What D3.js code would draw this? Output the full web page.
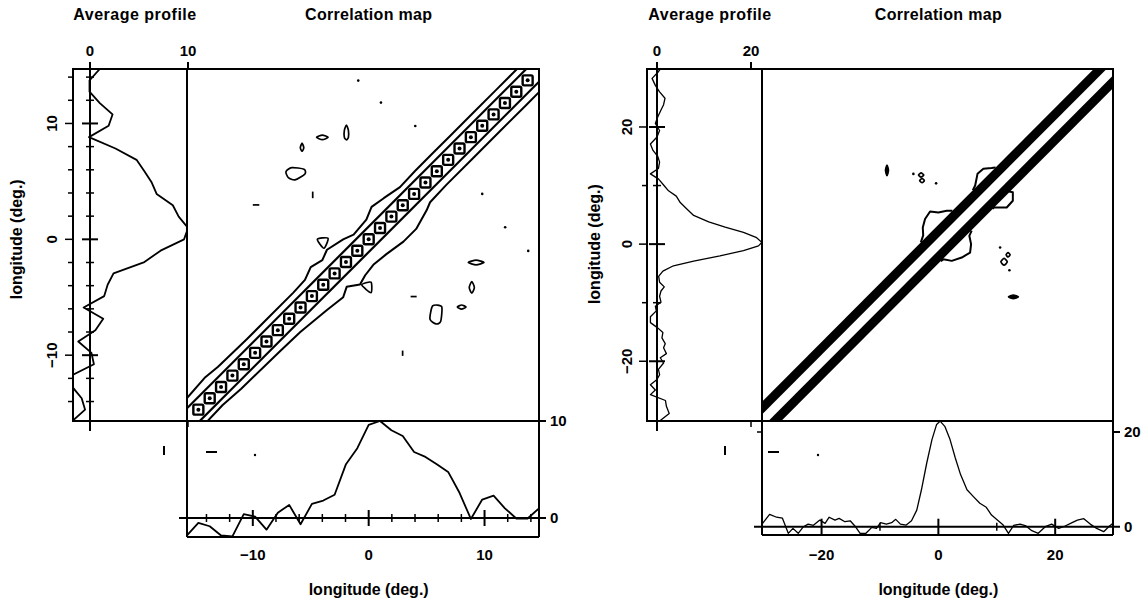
<!DOCTYPE html>
<html>
<head>
<meta charset="utf-8">
<script src="https://cdn.jsdelivr.net/npm/d3@7"></script>
<style>
body { margin: 0; background: #fff; }
text { font-family: "Liberation Sans", Arial, sans-serif; font-weight: bold; fill: #000; }
</style>
</head>
<body>
<script>
const w = 1148;
const h = 603;

// ---------- left figure (grid step 0.98 deg) ----------
const lonLeft = [-15.68, -14.7, -13.72, -12.74, -11.76, -10.78, -9.8, -8.82, -7.84, -6.86, -5.88, -4.9,
  -3.92, -2.94, -1.96, -0.98, 0, 0.98, 1.96, 2.94, 3.92, 4.9, 5.88, 6.86, 7.84, 8.82, 9.8, 10.78,
  11.76, 12.74, 13.72, 14.7];
const profLeft = [-1.8, -0.5, -0.85, -1.8, -1.9, 0.4, 0.15, -1.2, 0.55, 1.35, -0.65, 1.45,
  1.8, 2.4, 5.55, 7.2, 9.6, 10.0, 9.05, 8.45, 6.8, 6.3, 5.55, 4.75, 2.6, -0.1, 1.9, 2.3,
  1.0, -0.05, -0.05, 1.0];
// correlation maxima along the diagonal
const diagLeft = [-14.7, -13.72, -12.74, -11.76, -10.78, -9.8, -8.82, -7.84, -6.86, -5.88, -4.9,
  -3.92, -2.94, -1.96, -0.98, 0, 0.98, 1.96, 2.94, 3.92, 4.9, 5.88, 6.86, 7.84, 8.82, 9.8, 10.78,
  11.76, 12.74, 13.72];
const hugLeft = [1.1];
const outerUpLeft = [[-15.68, -13.7], [-14.1, -11.9], [-13.0, -11.0], [-10.5, -8.6], [-8.8, -6.9],
  [-6.5, -4.6], [-5.5, -3.5], [-5.0, -2.4], [-4.0, -1.8], [-3.6, -0.9], [-2.2, 0.0], [-1.3, 0.4],
  [-0.2, 1.7], [0.25, 2.8], [1.3, 3.55], [2.7, 4.5], [4.0, 5.9], [5.5, 7.4], [7.0, 8.9],
  [9.0, 10.9], [11.0, 12.9], [12.8, 14.7]];
const outerLoLeft = [[-13.9, -15.68], [-12.6, -14.3], [-11.0, -12.9], [-7.7, -9.7], [-5.9, -8.0],
  [-3.6, -6.1], [-2.2, -5.0], [-1.9, -4.1], [-0.75, -3.9], [-0.3, -3.1], [0.4, -2.2], [1.5, -1.3],
  [3.0, -0.2], [4.1, 0.9], [5.0, 2.5], [5.3, 3.2], [6.7, 4.7], [9.0, 7.0], [11.3, 9.3],
  [13.6, 11.6], [14.7, 12.7]];
const islandsLeft = [
  [[-1.92, 9.85], [-1.75, 9.4], [-1.75, 8.8], [-1.92, 8.58], [-2.1, 8.8], [-2.1, 9.4]],
  [[-4.5, 8.8], [-4.0, 9.0], [-3.5, 8.8], [-4.0, 8.6]],
  [[-5.75, 8.3], [-5.6, 7.9], [-5.75, 7.6], [-5.9, 7.9]],
  [[-7.14, 5.84], [-6.64, 6.19], [-5.58, 6.05], [-5.5, 5.64], [-6.36, 5.13], [-6.93, 5.32]],
  [[-4.43, 0.01], [-3.51, 0.09], [-3.86, -0.77]],
  [[8.6, -2.0], [9.27, -1.8], [9.95, -2.0], [9.27, -2.2]],
  [[8.9, -3.65], [9.12, -4.15], [8.9, -4.65], [8.68, -4.15]],
  [[-0.6, -3.93], [0.2, -3.7], [0.2, -4.6]],
  [[7.65, -5.85], [8.02, -5.67], [8.4, -5.85], [8.02, -6.03]],
  [[5.52, -5.75], [6.3, -5.81], [6.21, -7.1], [5.81, -7.3], [5.29, -6.89]],
  [[-10.0, 2.97], [-9.44, 2.97]],
  [[3.62, -4.94], [4.14, -4.94]],
  [[2.93, -9.6], [2.93, -10.06]],
  [[-4.83, 4.12], [-4.83, 3.55]]
];
const dotsLeft = [[-0.9, 13.7], [1.06, 11.8], [4.02, 9.78], [9.8, 3.92], [11.78, 1.04], [13.77, -1.0]];

// ---------- right figure ----------
const lonRight = [-30.1, -28.9, -27.7, -26.7, -25.7, -24.9, -24.0, -23.1, -22.3, -21.4, -20.3, -19.4,
  -18.7, -17.7, -17.0, -16.0, -15.1, -14.3, -13.4, -12.4, -11.4, -10.6, -9.9, -8.9, -8.0, -7.3,
  -6.5, -5.5, -4.6, -3.7, -2.9, -2.0, -1.1, -0.3, 0.3, 1.1, 2.0, 2.9, 3.8, 4.9, 6.0, 7.1, 8.2,
  9.1, 10.1, 11.1, 12.0, 12.9, 14.0, 15.0, 16.0, 17.1, 18.3, 19.4, 20.6, 21.7, 22.9, 23.8, 24.9,
  26.0, 27.1, 28.3, 29.3, 29.9];
const profRight = [0.7, 2.6, 2.0, 1.8, -1.4, -0.35, -1.4, 0, 0.55, 0.3, 1.4, 0.7,
  2.0, 1.4, 1.75, 1.05, 1.25, 0.15, -1.4, -1.4, -0.15, -0.35, 0.85, 0.55, 0.85, 1.55,
  0.55, 0.35, 1.25, 3.5, 7.8, 13.4, 18.4, 21.6, 22.3, 21.2, 18.4, 14.5, 11.0, 7.8, 6.35, 4.95, 4.1,
  2.45, 1.4, 0.35, -1.4, 0.3, 0.55, 0.15, -0.85, -1.4, 0, 0.55, -0.35, 0.15, 0.85, 1.4, 1.7,
  0.55, -0.35, -1.05, 0.15, 0.7];
// thick contour bands either side of the diagonal (offset in deg)
const bandRight = [1.1, 3.3];
const bulgesRight = [
  [[-3.0, 0.3], [-2.6, 1.5], [-2.67, 2.84], [-2.28, 4.28], [-1.42, 5.58], [0, 5.41], [1.44, 5.7], [2.4, 5.7]],
  [[0.4, -2.9], [0.86, -2.6], [2.29, -2.86], [4.0, -2.29], [5.43, -1.44], [5.6, 0], [5.3, 1.42], [5.7, 2.3]],
  [[5.9, 9.2], [6.3, 10.0], [6.7, 12.0], [7.7, 12.85], [9.1, 13.0], [9.8, 13.1]],
  [[9.3, 6.0], [9.5, 6.25], [11.7, 6.25], [12.75, 7.4], [12.75, 8.85], [12.1, 9.0]]
];
const islandsRight = [
  [[-8.8, 13.5], [-8.55, 12.6], [-8.8, 11.7], [-9.05, 12.6]],
  [[-3.4, 11.8], [-2.96, 12.15], [-2.5, 11.8], [-2.96, 11.45]],
  [[-3.2, 10.84], [-2.79, 11.2], [-2.4, 10.84], [-2.79, 10.5]],
  [[10.7, -3.03], [11.25, -2.45], [11.8, -3.03], [11.25, -3.6]],
  [[11.6, -1.83], [11.93, -1.45], [12.28, -1.83], [11.93, -2.2]],
  [[12.0, -8.99], [12.84, -8.7], [13.7, -8.99], [12.84, -9.3]]
];
const filledRight = [0, 5];
const dotsRight = [[-4.28, 11.99], [-0.39, 10.38], [10.57, -0.58], [12.16, -4.45]];

const svg = d3.select("body")
  .append("svg")
  .attr("width", w)
  .attr("height", h);

function panel(p) {
  const g = svg.append("g");
  const x = d3.scaleLinear().domain(p.dom).range([p.mapL, p.mapR]);
  const y = d3.scaleLinear().domain(p.dom).range([p.mapB, p.mapT]);
  const px = d3.scaleLinear().domain([0, p.pTop]).range([p.pz, p.pt]);   // side profile
  const py = d3.scaleLinear().domain([0, p.pTop]).range([p.qz, p.qt]);   // bottom profile

  const ln = (x1, y1, x2, y2, sw) => g.append("line")
    .attr("x1", x1).attr("y1", y1).attr("x2", x2).attr("y2", y2)
    .attr("stroke", "#000").attr("stroke-width", sw || 2);

  // clip paths
  const id = p.id;
  const defs = g.append("defs");
  defs.append("clipPath").attr("id", id + "m").append("rect")
    .attr("x", p.mapL).attr("y", p.mapT).attr("width", p.mapR - p.mapL).attr("height", p.mapB - p.mapT);
  defs.append("clipPath").attr("id", id + "s").append("rect")
    .attr("x", p.boxL).attr("y", p.mapT).attr("width", p.mapL - p.boxL + 1).attr("height", p.mapB - p.mapT);
  defs.append("clipPath").attr("id", id + "b").append("rect")
    .attr("x", p.mapL).attr("y", p.mapB - 1).attr("width", p.mapR - p.mapL).attr("height", p.boxB - p.mapB + 1);

  // titles
  g.append("text").attr("x", p.titleA).attr("y", 20).attr("text-anchor", "middle")
    .style("font-size", "16px").style("letter-spacing", "0.5px").text("Average profile");
  g.append("text").attr("x", x(0)).attr("y", 20).attr("text-anchor", "middle")
    .style("font-size", "16px").style("letter-spacing", "0.3px").text("Correlation map");
  g.append("text").attr("x", x(0)).attr("y", 595).attr("text-anchor", "middle")
    .style("font-size", "16px").text("longitude (deg.)");
  g.append("text").attr("transform", "translate(" + p.ylabX + "," + y(0) + ") rotate(-90)")
    .attr("text-anchor", "middle").style("font-size", "16px").text("longitude (deg.)");

  // frames
  ln(p.boxL - 1, p.mapT, p.mapR + 1, p.mapT);
  ln(p.boxL, p.mapT, p.boxL, p.mapB);
  ln(p.boxL - 1, p.mapB, p.mapR, p.mapB);
  ln(p.mapL, p.mapT, p.mapL, p.boxB);
  ln(p.mapR, p.mapT, p.mapR, p.boxB);
  ln(p.mapL, p.boxB, p.mapR, p.boxB);

  // side profile axis
  ln(px(0), p.mapT - 7, px(0), p.mapB + 10);
  p.topTicks.forEach(v => {
    ln(px(v), p.mapT - 7, px(v), p.mapT);
    ln(px(v), p.mapB, px(v), p.mapB + 6, 1.5);
    g.append("text").attr("x", px(v)).attr("y", 56).attr("text-anchor", "middle")
      .style("font-size", "15px").text(v);
  });
  p.lonTicks.forEach(v => {
    const big = p.lonMajor.includes(v);
    ln(p.boxL - (big ? 8 : 5), y(v), p.boxL, y(v), 1.5);
    ln(px(0) - (big ? 8 : 4), y(v), px(0) + (big ? 8 : 4), y(v), big ? 2 : 1.5);
    ln(x(v), py(0) - (big ? 8 : 4), x(v), py(0) + (big ? 8 : 4), big ? 2 : 1.5);
    if (big) {
      g.append("text").attr("transform", "translate(" + p.tickLabX + "," + y(v) + ") rotate(-90)")
        .attr("text-anchor", "middle").attr("dy", "0.35em")
        .style("font-size", "15px").text(d3.format("")(v).replace("-", "\u2212"));
      g.append("text").attr("x", x(v)).attr("y", 560).attr("text-anchor", "middle")
        .style("font-size", "15px").text(d3.format("")(v).replace("-", "\u2212"));
    }
  });

  // bottom profile axis
  ln(p.mapL - 8, py(0), p.mapR + 7, py(0));
  ln(p.mapR, py(p.pTop), p.mapR + 7, py(p.pTop));
  ln(p.mapL - 5, py(p.pTop), p.mapL, py(p.pTop), 1.5);
  [0, p.pTop].forEach(v => {
    g.append("text").attr("x", p.mapR + 11).attr("y", py(v)).attr("dy", "0.36em")
      .style("font-size", "15px").text(v);
  });

  // profiles
  g.append("path")
    .datum(p.lon)
    .attr("clip-path", "url(#" + id + "s)")
    .attr("fill", "none").attr("stroke", "#000").attr("stroke-width", p.profW)
    .attr("stroke-linejoin", "round")
    .attr("d", d3.line().x((d, i) => px(p.prof[i])).y(d => y(d)));
  g.append("path")
    .datum(p.lon)
    .attr("clip-path", "url(#" + id + "b)")
    .attr("fill", "none").attr("stroke", "#000").attr("stroke-width", p.profW)
    .attr("stroke-linejoin", "round")
    .attr("d", d3.line().x(d => x(d)).y((d, i) => py(p.prof[i])));

  // map content
  const m = g.append("g").attr("clip-path", "url(#" + id + "m)");
  const lo = p.dom[0] - 5, hi = p.dom[1] + 5;
  const pline = d3.line().x(d => x(d[0])).y(d => y(d[1]));
  const closed = d3.line().x(d => x(d[0])).y(d => y(d[1])).curve(d3.curveCardinalClosed.tension(0.3));

  if (p.band) {
    [1, -1].forEach(s => {
      const a = p.band[0] * s, b = p.band[1] * s;
      m.append("path")
        .datum([[lo, lo + a], [hi, hi + a], [hi, hi + b], [lo, lo + b]])
        .attr("fill", "#000")
        .attr("d", d3.line().x(d => x(d[0])).y(d => y(d[1])));
    });
  }
  if (p.hug) {
    p.hug.forEach(o => [1, -1].forEach(s => {
      m.append("path").datum([[lo, lo + o * s], [hi, hi + o * s]])
        .attr("fill", "none").attr("stroke", "#000").attr("stroke-width", 2.2).attr("d", pline);
    }));
  }
  (p.outer || []).forEach(c => {
    m.append("path").datum(c)
      .attr("fill", "none").attr("stroke", "#000").attr("stroke-width", 2)
      .attr("stroke-linejoin", "round").attr("d", pline);
  });
  if (p.diag) {
    m.selectAll(".sq").data(p.diag).enter().append("rect")
      .attr("x", d => x(d) - 5).attr("y", d => y(d) - 5)
      .attr("width", 10).attr("height", 10).attr("rx", 1.5)
      .attr("fill", "none").attr("stroke", "#000").attr("stroke-width", 2.4);
    m.selectAll(".dc").data(p.diag).enter().append("circle")
      .attr("cx", d => x(d)).attr("cy", d => y(d)).attr("r", 2).attr("fill", "#000");
  }
  p.islands.forEach((c, i) => {
    m.append("path").datum(c)
      .attr("fill", (p.filled || []).includes(i) ? "#000" : "none")
      .attr("stroke", "#000").attr("stroke-width", 1.7)
      .attr("stroke-linejoin", "round")
      .attr("d", c.length > 2 ? closed : pline);
  });
  m.selectAll(".dot").data(p.dots).enter().append("circle")
    .attr("cx", d => x(d[0])).attr("cy", d => y(d[1])).attr("r", 1.3).attr("fill", "#000");

  // stray legend marks below the side profile
  ln(p.marks[0], 446, p.marks[0], 455, 2);
  ln(p.marks[1], 452, p.marks[1] + 11, 452, 2);
  g.append("circle").attr("cx", p.marks[2]).attr("cy", 455).attr("r", 1.2).attr("fill", "#000");
}

panel({
  id: "L", dom: [-15.68, 14.7], mapL: 187, mapR: 539, mapT: 69, mapB: 421,
  boxL: 73, boxB: 537, pTop: 10, pz: 90, pt: 188, qz: 518, qt: 421,
  topTicks: [0, 10],
  lonTicks: [-14, -12, -10, -8, -6, -4, -2, 0, 2, 4, 6, 8, 10, 12, 14],
  lonMajor: [-10, 0, 10],
  lon: lonLeft, prof: profLeft, profW: 1.8,
  diag: diagLeft, hug: hugLeft, outer: [outerUpLeft, outerLoLeft],
  islands: islandsLeft, dots: dotsLeft,
  titleA: 135, ylabX: 22, tickLabX: 52, marks: [164, 206, 255]
});

panel({
  id: "R", dom: [-30.2, 29.9], mapL: 762, mapR: 1113, mapT: 69, mapB: 421,
  boxL: 647, boxB: 535, pTop: 20, pz: 657, pt: 751, qz: 526.7, qt: 432,
  topTicks: [0, 20],
  lonTicks: [-20, -10, 0, 10, 20],
  lonMajor: [-20, 0, 20],
  lon: lonRight, prof: profRight, profW: 1.3,
  band: bandRight, outer: bulgesRight,
  islands: islandsRight, filled: filledRight, dots: dotsRight,
  titleA: 710, ylabX: 600, tickLabX: 627, marks: [725, 768, 818]
});
</script>
</body>
</html>
